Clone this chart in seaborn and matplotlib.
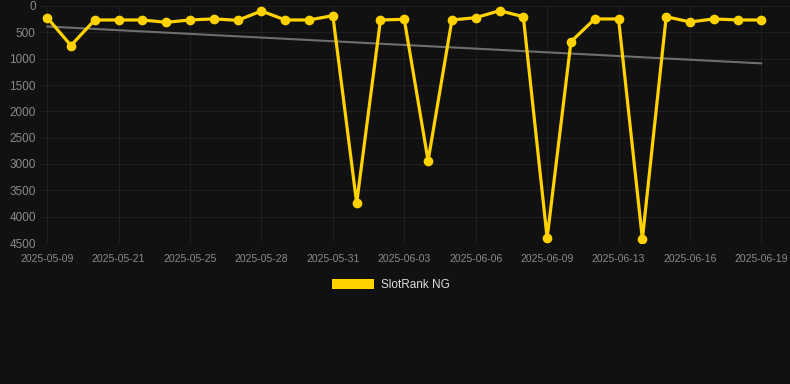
import numpy as np
import pandas as pd
import matplotlib
matplotlib.use("Agg")
import matplotlib.pyplot as plt
from matplotlib.patches import Patch
import seaborn as sns

# Datos (rank diario, eje invertido)
fechas = [
    "2025-05-09", "2025-05-15", "2025-05-18", "2025-05-21", "2025-05-22",
    "2025-05-24", "2025-05-25", "2025-05-26", "2025-05-27", "2025-05-28",
    "2025-05-29", "2025-05-30", "2025-05-31", "2025-06-01", "2025-06-02",
    "2025-06-03", "2025-06-04", "2025-06-05", "2025-06-06", "2025-06-07",
    "2025-06-08", "2025-06-09", "2025-06-10", "2025-06-12", "2025-06-13",
    "2025-06-14", "2025-06-15", "2025-06-16", "2025-06-17", "2025-06-18",
    "2025-06-19",
]
rank = [
    220, 750, 265, 265, 265, 310, 265, 245, 272, 95,
    265, 265, 183, 3742, 265, 253, 2939, 265, 222, 89,
    203, 4405, 677, 246, 246, 4424, 203, 303, 246, 265,
    265,
]
serie = "SlotRank NG"
y_ticks = [0, 500, 1000, 1500, 2000, 2500, 3000, 3500, 4000, 4500]

BG = "#111111"
GRID = "#1f1f1f"
TXT = "#8a8a8a"
AMARILLO = "#FFD200"

df = pd.DataFrame({"idx": np.arange(len(fechas)), "fecha": fechas, "rank": rank})

sns.set_theme(style="dark")
plt.rcParams["font.family"] = ["Liberation Sans", "DejaVu Sans"]

fig = plt.figure(figsize=(7.9, 3.84), dpi=100, facecolor=BG)
ax = fig.add_axes([40 / 790, 1 - 243 / 384, 1 - 40 / 790, (243 - 6) / 384])
ax.set_facecolor(BG)

# linea de tendencia (regresion lineal)
sns.regplot(data=df, x="idx", y="rank", scatter=False, ci=None, truncate=True,
            color="#6e6e6e", line_kws={"linewidth": 1.5}, ax=ax)

sns.lineplot(data=df, x="idx", y="rank", color=AMARILLO, linewidth=2.3,
             marker="o", markersize=7, markeredgewidth=0, ax=ax)

ax.set_ylim(4500, 0)
ax.set_xlim(-0.3, len(fechas) + 0.2)
ax.set_yticks(y_ticks)
ax.set_yticklabels([str(v) for v in y_ticks], fontsize=8.5, color=TXT)
pos = df["idx"].values[::3]
ax.set_xticks(pos)
ax.set_xticklabels(df["fecha"].values[::3], fontsize=7.5, color=TXT)

ax.grid(True, color=GRID, linewidth=0.8)
ax.tick_params(axis="x", length=6, color=GRID, pad=2)
ax.tick_params(axis="y", length=0, pad=3)
for s in ax.spines.values():
    s.set_visible(False)
ax.set_xlabel("")
ax.set_ylabel("")

fig.legend(handles=[Patch(facecolor=AMARILLO, edgecolor="none", label=serie)],
           loc="center", bbox_to_anchor=(0.495, 1 - 285 / 384), frameon=False,
           fontsize=8.5, labelcolor="#dddddd", handlelength=3.6, handleheight=1.0,
           handletextpad=0.6)

fig.savefig("out.png", dpi=100, facecolor=BG)
plt.close(fig)
